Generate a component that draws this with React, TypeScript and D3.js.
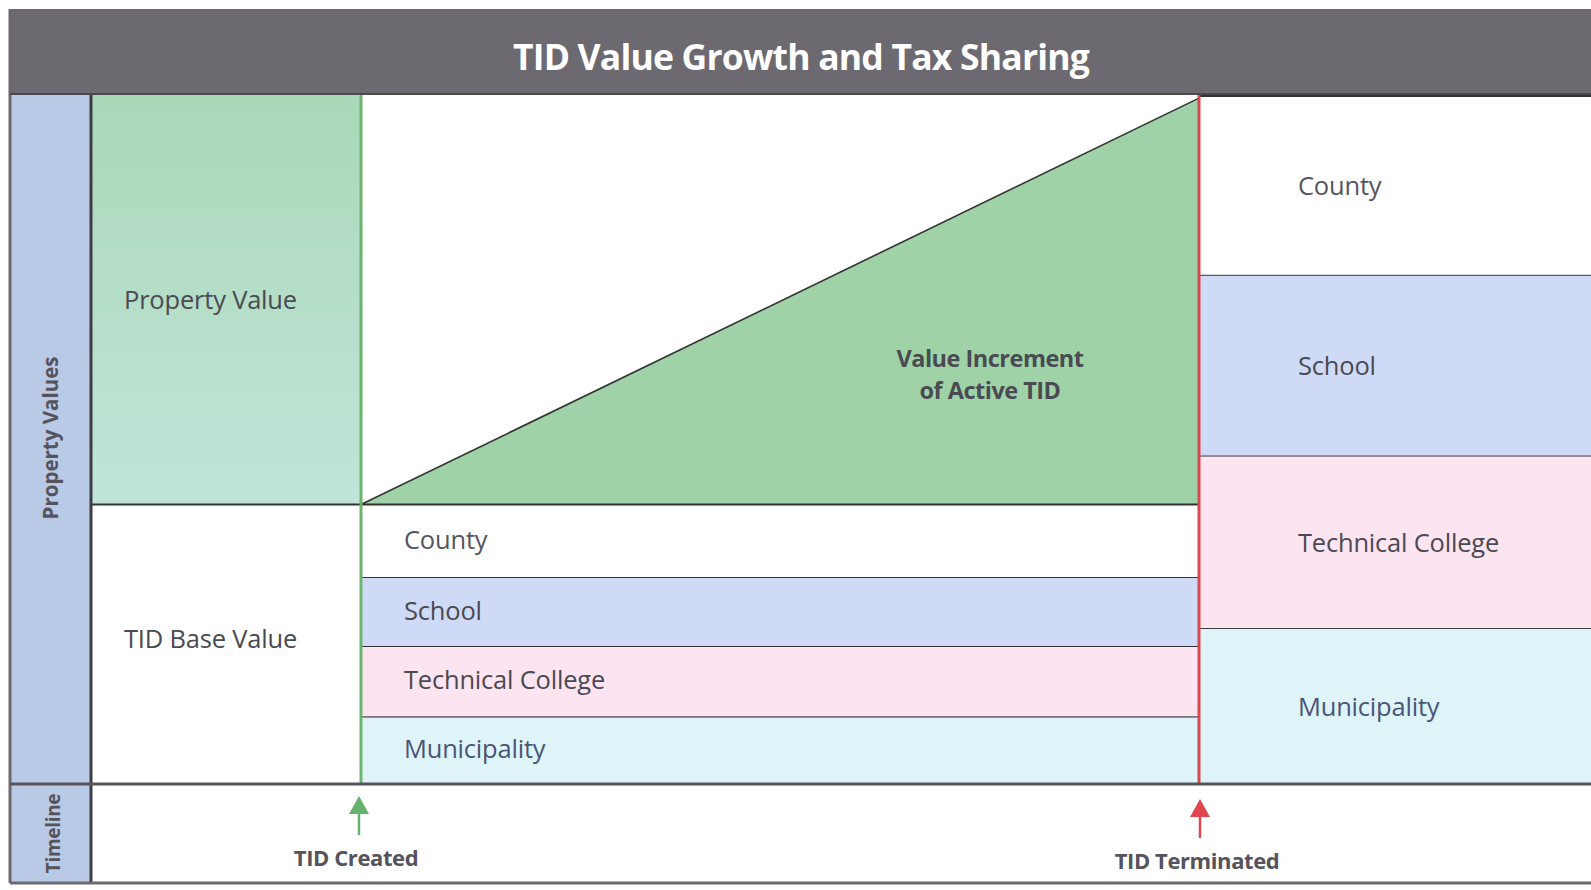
import React from 'react';
import { scaleLinear, line } from 'd3';

// time axis: start, TID created, TID terminated, end
const timeMarks = [0, 1, 2, 3];
const events = ['TID Created', 'TID Terminated'];

// property value (share of total, in %)
const baseValue = 40.5;
const incrementPeak = 99.4;

const jurisdictions = ['County', 'School', 'Technical College', 'Municipality'];
const activeShares = [10.5, 10, 10.2, 9.8];
const afterShares = [25.9, 26.2, 25, 22.6];

const bandColors = ['#ffffff', '#cfdbf6', '#fde4f1', '#def4f8'];
const labelColors = ['#55555e', '#4a4a52', '#4a4a52', '#4b5578'];

const W = 1591;
const H = 890;
const FONT = '"Open Sans", "Noto Sans", sans-serif';

function stackBands(shares: number[]) {
    // County on top, Municipality at the bottom
    let acc = 0;
    const out: { name: string; y0: number; y1: number; i: number }[] = [];
    for (let i = shares.length - 1; i >= 0; i--) {
        out.push({ name: jurisdictions[i], y0: acc, y1: acc + shares[i], i });
        acc += shares[i];
    }
    return out;
}

export default function App() {
    const x = scaleLinear().domain(timeMarks).range([91, 361, 1199, 1591]);
    const y = scaleLinear().domain([0, 100]).range([784, 94]);

    const active = stackBands(activeShares);
    const after = stackBands(afterShares);

    const tri = line<[number, number]>()
        .x(d => x(d[0]))
        .y(d => y(d[1]));
    const triPath = tri([[1, baseValue], [2, incrementPeak], [2, baseValue], [1, baseValue]]) || '';
    const slope = tri([[1, baseValue], [2, incrementPeak]]) || '';

    const left = 10;
    const headerTop = 9;
    const headerBottom = y(100);
    const bottom = 883;
    const sideRight = x(0);

    const txt = { fontFamily: FONT, fill: '#4a4a52' } as const;
    const label = { ...txt, fontSize: 25.5, letterSpacing: -0.2 } as const;

    return (
        <svg width={W} height={H} style={{ position: 'absolute', left: 0, top: 0, background: '#fff' }}>
            <defs>
                <linearGradient id="pv" x1="0" y1="0" x2="0" y2="1">
                    <stop offset="0" stopColor="#a9d8b9" />
                    <stop offset="1" stopColor="#c1e4d8" />
                </linearGradient>
            </defs>

            {/* header */}
            <rect x={left} y={headerTop} width={W - left} height={headerBottom - headerTop} fill="#6c6971" />
            <text x={801} y={56} textAnchor="middle" dominantBaseline="central"
                style={{ ...txt, fill: '#fff', fontWeight: 700, fontSize: 35.5, letterSpacing: -0.8 }}>
                TID Value Growth and Tax Sharing
            </text>

            {/* side column */}
            <rect x={left} y={headerBottom} width={sideRight - left} height={bottom - headerBottom} fill="#b8cae6" />
            <text transform={`translate(50,438) rotate(-90)`} textAnchor="middle"
                dominantBaseline="central" style={{ ...txt, fontWeight: 700, fontSize: 20.5, fill: '#55535c' }}>
                Property Values
            </text>
            <text transform={`translate(53,${(y(0) + bottom) / 2}) rotate(-90)`} textAnchor="middle"
                dominantBaseline="central" style={{ ...txt, fontWeight: 700, fontSize: 19, fill: '#55535c', letterSpacing: -0.3 }}>
                Timeline
            </text>

            {/* before TID: property value over base */}
            <rect x={x(0)} y={y(100)} width={x(1) - x(0)} height={y(baseValue) - y(100)} fill="url(#pv)" />
            <line x1={x(0)} x2={x(1)} y1={y(baseValue)} y2={y(baseValue)} stroke="#333" strokeWidth={2} />
            <text x={124} y={(y(100) + y(baseValue)) / 2} dominantBaseline="central" style={label}>
                Property Value
            </text>
            <text x={124} y={(y(baseValue) + y(0)) / 2 - 6} dominantBaseline="central" style={label}>
                TID Base Value
            </text>

            {/* active TID: value increment */}
            <path d={triPath} fill="#9fd3a7" />
            <path d={slope} fill="none" stroke="#333" strokeWidth={1.6} />
            <text x={990} y={358} textAnchor="middle" dominantBaseline="central"
                style={{ ...txt, fontWeight: 700, fontSize: 23.5, letterSpacing: -0.5 }}>
                Value Increment
            </text>
            <text x={990} y={390} textAnchor="middle" dominantBaseline="central"
                style={{ ...txt, fontWeight: 700, fontSize: 23.5, letterSpacing: -0.5 }}>
                of Active TID
            </text>

            {/* active TID: base value shared by jurisdictions */}
            {active.map(b => (
                <g key={'a' + b.name}>
                    <rect x={x(1)} y={y(b.y1)} width={x(2) - x(1)} height={y(b.y0) - y(b.y1)} fill={bandColors[b.i]} />
                    <line x1={x(1)} x2={x(2)} y1={y(b.y1)} y2={y(b.y1)} stroke="#333" strokeWidth={2} />
                    <text x={404} y={(y(b.y0) + y(b.y1)) / 2 - 2} dominantBaseline="central"
                        style={{ ...label, fill: labelColors[b.i] }}>
                        {b.name}
                    </text>
                </g>
            ))}

            {/* after TID: full value shared */}
            {after.map(b => (
                <g key={'b' + b.name}>
                    <rect x={x(2)} y={y(b.y1)} width={x(3) - x(2)} height={y(b.y0) - y(b.y1)} fill={bandColors[b.i]} />
                    <line x1={x(2)} x2={x(3)} y1={y(b.y1)} y2={y(b.y1)} stroke="#333" strokeWidth={2} />
                    <text x={1298} y={(y(b.y0) + y(b.y1)) / 2} dominantBaseline="central"
                        style={{ ...label, fill: labelColors[b.i] }}>
                        {b.name}
                    </text>
                </g>
            ))}

            {/* phase boundaries */}
            <line x1={x(1)} x2={x(1)} y1={headerBottom} y2={y(0)} stroke="#6cb56e" strokeWidth={3} />
            <line x1={x(2)} x2={x(2)} y1={headerBottom} y2={y(0)} stroke="#d9474f" strokeWidth={3} />

            {/* frame */}
            <line x1={sideRight} x2={sideRight} y1={headerBottom} y2={bottom} stroke="#3f3d45" strokeWidth={3} />
            <line x1={left} x2={left} y1={headerTop} y2={bottom} stroke="#6c6971" strokeWidth={3} />
            <line x1={left} x2={W} y1={y(0)} y2={y(0)} stroke="#57555c" strokeWidth={3} />
            <line x1={left} x2={W} y1={bottom} y2={bottom} stroke="#6c6971" strokeWidth={3} />
            <line x1={left} x2={W} y1={headerBottom} y2={headerBottom} stroke="#4a4850" strokeWidth={2} />

            {/* timeline events */}
            {events.map((ev, i) => {
                const ex = x(i + 1) + (i === 0 ? -2 : 1);
                const col = i === 0 ? '#66b26c' : '#e04550';
                const top = y(0) + 12 + i * 3;
                return (
                    <g key={ev}>
                        <path d={`M${ex},${top} L${ex - 10},${top + 18} L${ex + 10},${top + 18} Z`} fill={col} />
                        <line x1={ex} x2={ex} y1={top + 16} y2={top + 39} stroke={col} strokeWidth={2.5} />
                        <text x={ex - 3} y={857 + i * 3} textAnchor="middle" dominantBaseline="central"
                            style={{ ...txt, fontWeight: 700, fontSize: 22, letterSpacing: -0.4, fill: '#55535c' }}>
                            {ev}
                        </text>
                    </g>
                );
            })}
        </svg>
    );
}
